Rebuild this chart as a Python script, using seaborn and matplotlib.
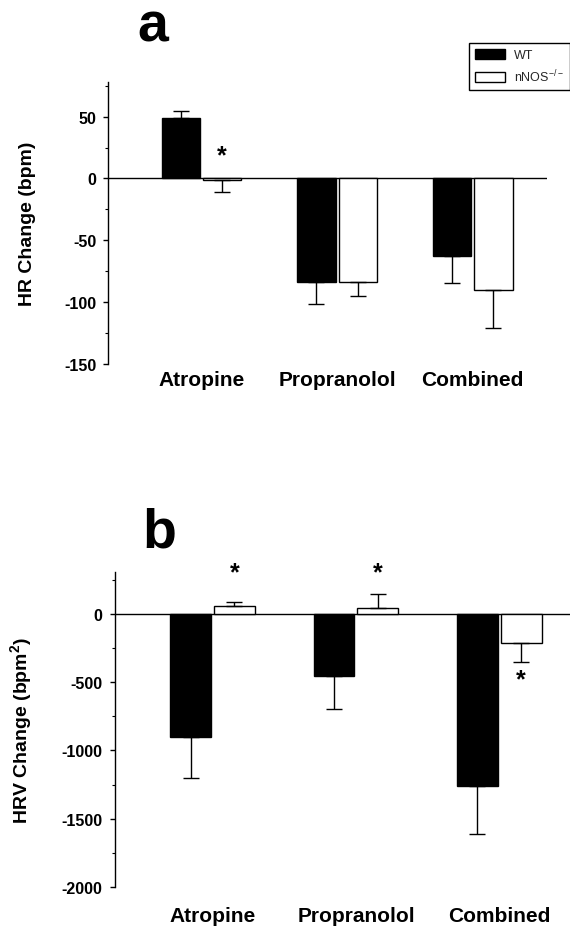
import numpy as np
import pandas as pd
import matplotlib
matplotlib.use("Agg")
import matplotlib.pyplot as plt
from matplotlib.patches import Patch
from matplotlib.ticker import MultipleLocator
import seaborn as sns

# ---- data ----
drugs = ["Atropine", "Propranolol", "Combined"]
groups = ["WT", "nNOS"]

hr_wt = [49, -83.5, -62.5]
hr_wt_err = [5.3, 18.0, 22.0]
hr_nnos = [-1.5, -83.5, -90.5]
hr_nnos_err = [9.7, 11.2, 30.7]

hrv_wt = [-903, -459, -1262]
hrv_wt_err = [302, 236, 353]
hrv_nnos = [58, 44, -217]
hrv_nnos_err = [27, 97, 137]

hr_yticks = [50, 0, -50, -100, -150]
hrv_yticks = [0, -500, -1000, -1500, -2000]

sns.set_theme(style="white")
plt.rcParams["font.family"] = ["Liberation Sans", "DejaVu Sans"]
plt.rcParams["mathtext.default"] = "regular"

fig = plt.figure(figsize=(5.70, 9.29), dpi=100)

ax_a = fig.add_axes([0.1895, 0.6071, 0.7701, 0.3036])
ax_b = fig.add_axes([0.2009, 0.0441, 0.7991, 0.3391])


def panel(ax, wt, wt_err, nn, nn_err, ylim, xlim, yticks, minor, ylabel, label_coords, xpad, stars):
    df = pd.DataFrame({
        "Drug": drugs * 2,
        "Group": ["WT"] * 3 + ["nNOS"] * 3,
        "Value": list(wt) + list(nn),
    })
    ax.axhline(0, color="black", lw=1.0, zorder=1)
    sns.barplot(data=df, x="Drug", y="Value", hue="Group", order=drugs,
                hue_order=groups, palette=["black", "white"], edgecolor="black",
                linewidth=1.0, width=0.61, gap=0.07, errorbar=None, legend=False,
                ax=ax, zorder=2)
    errs = [wt_err, nn_err]
    for cont, err in zip(ax.containers, errs):
        for bar, e in zip(cont, err):
            x = bar.get_x() + bar.get_width() / 2
            h = bar.get_height()
            if h >= 0:
                yerr = [[0], [e]]
            else:
                yerr = [[e], [0]]
            ax.errorbar([x], [h], yerr=yerr, fmt="none", ecolor="black",
                        elinewidth=1.0, capsize=5.5, capthick=1.0, zorder=3)
    # significance stars
    for (ci, bi, yv) in stars:
        bar = ax.containers[ci][bi]
        x = bar.get_x() + bar.get_width() / 2
        ax.text(x, yv, "*", ha="center", va="center", fontsize=18,
                fontweight="bold", color="black", clip_on=False)
    ax.set_xlim(*xlim)
    ax.set_ylim(*ylim)
    ax.set_yticks(yticks)
    ax.set_yticklabels([str(t) for t in yticks])
    ax.yaxis.set_minor_locator(MultipleLocator(minor))
    ax.tick_params(axis="y", which="major", direction="out", length=3.5,
                   width=1.0, pad=5, labelsize=11.5, left=True, colors="black")
    ax.tick_params(axis="y", which="minor", direction="out", length=2.5,
                   width=0.8, left=True, color="black")
    ax.tick_params(axis="x", length=0, pad=xpad, labelsize=15, colors="black")
    for lbl in ax.get_yticklabels() + ax.get_xticklabels():
        lbl.set_fontweight("bold")
    for s in ["top", "right", "bottom"]:
        ax.spines[s].set_visible(False)
    ax.spines["left"].set_color("black")
    ax.spines["left"].set_linewidth(1.0)
    ax.set_xlabel("")
    ax.set_ylabel(ylabel, fontsize=14, fontweight="bold", color="black")
    ax.yaxis.set_label_coords(*label_coords)
    ax.set_facecolor("white")


panel(ax_a, hr_wt, hr_wt_err, hr_nnos, hr_nnos_err, (-150, 78), (-0.689, 2.548),
      hr_yticks, 25, "HR Change (bpm)", (-0.164, 0.5), 4,
      [(1, 0, 19)])
panel(ax_b, hrv_wt, hrv_wt_err, hrv_nnos, hrv_nnos_err, (-2000, 305), (-0.684, 2.493),
      hrv_yticks, 250, r"HRV Change (bpm$^2$)", (-0.176, 0.5), 14,
      [(1, 0, 305), (1, 1, 305), (1, 2, -480)])

fig.text(153 / 570, 1 - 42 / 929, "a", ha="center", va="baseline",
         fontsize=40, fontweight="bold", color="black")
fig.text(159 / 570, 1 - 548 / 929, "b", ha="center", va="baseline",
         fontsize=40, fontweight="bold", color="black")

handles = [Patch(facecolor="black", edgecolor="black", label="WT"),
           Patch(facecolor="white", edgecolor="black", label=r"nNOS$^{-/-}$")]
leg = fig.legend(handles=handles, loc="upper right",
                 bbox_to_anchor=(1.0, 1 - 44 / 929), frameon=True, fancybox=False,
                 edgecolor="black", framealpha=1, fontsize=9,
                 handlelength=2.4, handleheight=0.8, borderpad=0.5,
                 labelspacing=0.5, handletextpad=0.7, borderaxespad=0.0)
leg.get_frame().set_linewidth(1.0)

fig.savefig("out.png", dpi=100, facecolor="white")
